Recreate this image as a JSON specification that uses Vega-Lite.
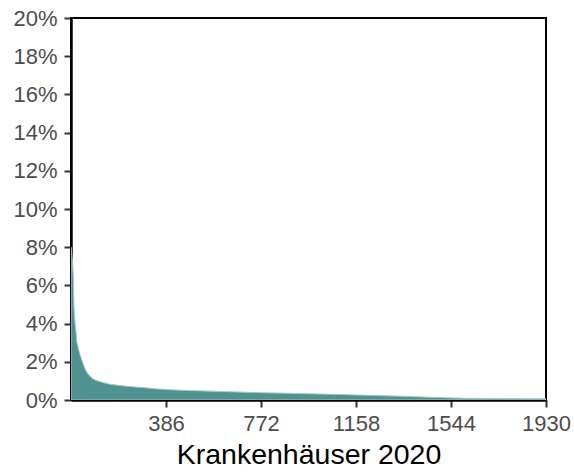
{
  "$schema": "https://vega.github.io/schema/vega-lite/v6.json",
  "width": 475,
  "height": 382,
  "autosize": {"type": "none"},
  "padding": {"left": 71, "top": 18, "right": 28, "bottom": 72},
  "background": "white",
  "config": {
    "font": "Liberation Sans",
    "view": {"stroke": "black", "strokeWidth": 2}
  },
  "data": {
    "values": [
      {"rank": 0, "share": 0.080},
      {"rank": 3, "share": 0.076},
      {"rank": 6, "share": 0.072},
      {"rank": 9, "share": 0.066},
      {"rank": 12, "share": 0.048},
      {"rank": 16, "share": 0.041},
      {"rank": 20, "share": 0.036},
      {"rank": 24, "share": 0.030},
      {"rank": 30, "share": 0.027},
      {"rank": 36, "share": 0.024},
      {"rank": 42, "share": 0.0215},
      {"rank": 48, "share": 0.0195},
      {"rank": 55, "share": 0.017},
      {"rank": 62, "share": 0.015},
      {"rank": 70, "share": 0.0135},
      {"rank": 80, "share": 0.012},
      {"rank": 90, "share": 0.011},
      {"rank": 100, "share": 0.0103},
      {"rank": 120, "share": 0.0095},
      {"rank": 140, "share": 0.0088},
      {"rank": 160, "share": 0.0082},
      {"rank": 190, "share": 0.0077},
      {"rank": 226, "share": 0.0072},
      {"rank": 260, "share": 0.0068},
      {"rank": 300, "share": 0.0064},
      {"rank": 350, "share": 0.0058},
      {"rank": 400, "share": 0.0054},
      {"rank": 450, "share": 0.0051},
      {"rank": 500, "share": 0.0049},
      {"rank": 600, "share": 0.0045},
      {"rank": 700, "share": 0.0041},
      {"rank": 772, "share": 0.0038},
      {"rank": 850, "share": 0.0036},
      {"rank": 950, "share": 0.0033},
      {"rank": 1050, "share": 0.0030},
      {"rank": 1158, "share": 0.0026},
      {"rank": 1250, "share": 0.0023},
      {"rank": 1350, "share": 0.0019},
      {"rank": 1450, "share": 0.0015},
      {"rank": 1544, "share": 0.0011},
      {"rank": 1600, "share": 0.0009},
      {"rank": 1700, "share": 0.0008},
      {"rank": 1800, "share": 0.0007},
      {"rank": 1930, "share": 0.0006}
    ]
  },
  "mark": {"type": "area", "color": "#4f928f", "stroke": "#a3c9c6", "strokeWidth": 1, "clip": true},
  "encoding": {
    "x": {
      "field": "rank",
      "type": "quantitative",
      "scale": {"domain": [0, 1930], "nice": false, "zero": false},
      "axis": {
        "values": [386, 772, 1158, 1544, 1930],
        "format": "d",
        "labelFlush": false,
        "labelBound": false,
        "labelOverlap": false,
        "title": "Krankenhäuser 2020",
        "grid": false,
        "domainColor": "black",
        "domainWidth": 2.5,
        "tickColor": "#333333",
        "tickWidth": 2,
        "tickSize": 7,
        "labelFontSize": 22,
        "labelColor": "#4d4d4d",
        "labelPadding": 6,
        "titleFontSize": 28.5,
        "titleFontWeight": "normal",
        "titleColor": "black",
        "titlePadding": 6
      }
    },
    "y": {
      "field": "share",
      "type": "quantitative",
      "scale": {"domain": [0, 0.2], "nice": false},
      "axis": {
        "values": [0, 0.02, 0.04, 0.06, 0.08, 0.1, 0.12, 0.14, 0.16, 0.18, 0.2],
        "format": ".0%",
        "title": null,
        "grid": false,
        "domainColor": "black",
        "domainWidth": 2.5,
        "tickColor": "#333333",
        "tickWidth": 2,
        "tickSize": 7,
        "labelFontSize": 22,
        "labelColor": "#4d4d4d",
        "labelPadding": 7
      }
    }
  }
}
